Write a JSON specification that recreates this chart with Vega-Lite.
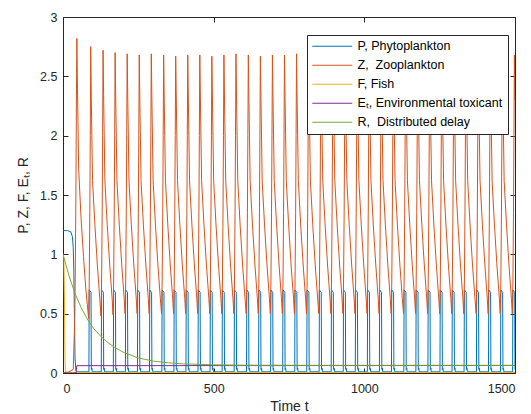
{
"$schema":"https://vega.github.io/schema/vega-lite/v6.json",
"width":452,"height":356,
"autosize":{"type":"none"},
"padding":{"left":63,"top":17,"right":16,"bottom":41},
"background":"white",
"config":{
 "view":{"stroke":"#262626","strokeWidth":1},
 "font":"Liberation Sans",
 "axis":{"labelFont":"Liberation Sans","titleFont":"Liberation Sans","labelColor":"#262626","titleColor":"#262626","titleFontWeight":"normal","grid":false,"domain":false,"tickColor":"#262626","tickSize":-5,"labelFontSize":12.5,"titleFontSize":14}
},
"data":{"values":[
{"t":0,"s":"P","v":1.2},{"t":15,"s":"P","v":1.2},{"t":26,"s":"P","v":1.19},{"t":31,"s":"P","v":1.15},{"t":34,"s":"P","v":1.06},{"t":36,"s":"P","v":0.85},{"t":38,"s":"P","v":0.45},{"t":40,"s":"P","v":0.12},{"t":43,"s":"P","v":0.02},{"t":46,"s":"P","v":0.01},
{"t":86,"s":"P","v":0.01},{"t":87,"s":"P","v":0.7},{"t":93,"s":"P","v":0.68},{"t":94,"s":"P","v":0.03},{"t":96,"s":"P","v":0.04},{"t":97,"s":"P","v":0.01},
{"t":127,"s":"P","v":0.01},{"t":128,"s":"P","v":0.7},{"t":134,"s":"P","v":0.68},{"t":135,"s":"P","v":0.03},{"t":137,"s":"P","v":0.04},{"t":138,"s":"P","v":0.01},
{"t":167,"s":"P","v":0.01},{"t":168,"s":"P","v":0.7},{"t":174,"s":"P","v":0.68},{"t":175,"s":"P","v":0.03},{"t":177,"s":"P","v":0.04},{"t":178,"s":"P","v":0.01},
{"t":207,"s":"P","v":0.01},{"t":208,"s":"P","v":0.7},{"t":214,"s":"P","v":0.68},{"t":215,"s":"P","v":0.03},{"t":217,"s":"P","v":0.04},{"t":218,"s":"P","v":0.01},
{"t":247,"s":"P","v":0.01},{"t":248,"s":"P","v":0.7},{"t":254,"s":"P","v":0.68},{"t":255,"s":"P","v":0.03},{"t":257,"s":"P","v":0.04},{"t":258,"s":"P","v":0.01},
{"t":287,"s":"P","v":0.01},{"t":288,"s":"P","v":0.7},{"t":294,"s":"P","v":0.68},{"t":295,"s":"P","v":0.03},{"t":297,"s":"P","v":0.04},{"t":298,"s":"P","v":0.01},
{"t":328,"s":"P","v":0.01},{"t":329,"s":"P","v":0.7},{"t":335,"s":"P","v":0.68},{"t":336,"s":"P","v":0.03},{"t":338,"s":"P","v":0.04},{"t":339,"s":"P","v":0.01},
{"t":368,"s":"P","v":0.01},{"t":369,"s":"P","v":0.7},{"t":375,"s":"P","v":0.68},{"t":376,"s":"P","v":0.03},{"t":378,"s":"P","v":0.04},{"t":379,"s":"P","v":0.01},
{"t":408,"s":"P","v":0.01},{"t":409,"s":"P","v":0.7},{"t":415,"s":"P","v":0.68},{"t":416,"s":"P","v":0.03},{"t":418,"s":"P","v":0.04},{"t":419,"s":"P","v":0.01},
{"t":448,"s":"P","v":0.01},{"t":449,"s":"P","v":0.7},{"t":455,"s":"P","v":0.68},{"t":456,"s":"P","v":0.03},{"t":458,"s":"P","v":0.04},{"t":459,"s":"P","v":0.01},
{"t":488,"s":"P","v":0.01},{"t":489,"s":"P","v":0.7},{"t":495,"s":"P","v":0.68},{"t":496,"s":"P","v":0.03},{"t":498,"s":"P","v":0.04},{"t":499,"s":"P","v":0.01},
{"t":528,"s":"P","v":0.01},{"t":529,"s":"P","v":0.7},{"t":535,"s":"P","v":0.68},{"t":536,"s":"P","v":0.03},{"t":538,"s":"P","v":0.04},{"t":539,"s":"P","v":0.01},
{"t":568,"s":"P","v":0.01},{"t":569,"s":"P","v":0.7},{"t":575,"s":"P","v":0.68},{"t":576,"s":"P","v":0.03},{"t":578,"s":"P","v":0.04},{"t":579,"s":"P","v":0.01},
{"t":609,"s":"P","v":0.01},{"t":610,"s":"P","v":0.7},{"t":616,"s":"P","v":0.68},{"t":617,"s":"P","v":0.03},{"t":619,"s":"P","v":0.04},{"t":620,"s":"P","v":0.01},
{"t":649,"s":"P","v":0.01},{"t":650,"s":"P","v":0.7},{"t":656,"s":"P","v":0.68},{"t":657,"s":"P","v":0.03},{"t":659,"s":"P","v":0.04},{"t":660,"s":"P","v":0.01},
{"t":689,"s":"P","v":0.01},{"t":690,"s":"P","v":0.7},{"t":696,"s":"P","v":0.68},{"t":697,"s":"P","v":0.03},{"t":699,"s":"P","v":0.04},{"t":700,"s":"P","v":0.01},
{"t":729,"s":"P","v":0.01},{"t":730,"s":"P","v":0.7},{"t":736,"s":"P","v":0.68},{"t":737,"s":"P","v":0.03},{"t":739,"s":"P","v":0.04},{"t":740,"s":"P","v":0.01},
{"t":769,"s":"P","v":0.01},{"t":770,"s":"P","v":0.7},{"t":776,"s":"P","v":0.68},{"t":777,"s":"P","v":0.03},{"t":779,"s":"P","v":0.04},{"t":780,"s":"P","v":0.01},
{"t":809,"s":"P","v":0.01},{"t":810,"s":"P","v":0.7},{"t":816,"s":"P","v":0.68},{"t":817,"s":"P","v":0.03},{"t":819,"s":"P","v":0.04},{"t":820,"s":"P","v":0.01},
{"t":850,"s":"P","v":0.01},{"t":851,"s":"P","v":0.7},{"t":857,"s":"P","v":0.68},{"t":858,"s":"P","v":0.03},{"t":860,"s":"P","v":0.04},{"t":861,"s":"P","v":0.01},
{"t":890,"s":"P","v":0.01},{"t":891,"s":"P","v":0.7},{"t":897,"s":"P","v":0.68},{"t":898,"s":"P","v":0.03},{"t":900,"s":"P","v":0.04},{"t":901,"s":"P","v":0.01},
{"t":930,"s":"P","v":0.01},{"t":931,"s":"P","v":0.7},{"t":937,"s":"P","v":0.68},{"t":938,"s":"P","v":0.03},{"t":940,"s":"P","v":0.04},{"t":941,"s":"P","v":0.01},
{"t":970,"s":"P","v":0.01},{"t":971,"s":"P","v":0.7},{"t":977,"s":"P","v":0.68},{"t":978,"s":"P","v":0.03},{"t":980,"s":"P","v":0.04},{"t":981,"s":"P","v":0.01},
{"t":1010,"s":"P","v":0.01},{"t":1011,"s":"P","v":0.7},{"t":1017,"s":"P","v":0.68},{"t":1018,"s":"P","v":0.03},{"t":1020,"s":"P","v":0.04},{"t":1021,"s":"P","v":0.01},
{"t":1050,"s":"P","v":0.01},{"t":1051,"s":"P","v":0.7},{"t":1057,"s":"P","v":0.68},{"t":1058,"s":"P","v":0.03},{"t":1060,"s":"P","v":0.04},{"t":1061,"s":"P","v":0.01},
{"t":1090,"s":"P","v":0.01},{"t":1091,"s":"P","v":0.7},{"t":1097,"s":"P","v":0.68},{"t":1098,"s":"P","v":0.03},{"t":1100,"s":"P","v":0.04},{"t":1101,"s":"P","v":0.01},
{"t":1131,"s":"P","v":0.01},{"t":1132,"s":"P","v":0.7},{"t":1138,"s":"P","v":0.68},{"t":1139,"s":"P","v":0.03},{"t":1141,"s":"P","v":0.04},{"t":1142,"s":"P","v":0.01},
{"t":1171,"s":"P","v":0.01},{"t":1172,"s":"P","v":0.7},{"t":1178,"s":"P","v":0.68},{"t":1179,"s":"P","v":0.03},{"t":1181,"s":"P","v":0.04},{"t":1182,"s":"P","v":0.01},
{"t":1211,"s":"P","v":0.01},{"t":1212,"s":"P","v":0.7},{"t":1218,"s":"P","v":0.68},{"t":1219,"s":"P","v":0.03},{"t":1221,"s":"P","v":0.04},{"t":1222,"s":"P","v":0.01},
{"t":1251,"s":"P","v":0.01},{"t":1252,"s":"P","v":0.7},{"t":1258,"s":"P","v":0.68},{"t":1259,"s":"P","v":0.03},{"t":1261,"s":"P","v":0.04},{"t":1262,"s":"P","v":0.01},
{"t":1291,"s":"P","v":0.01},{"t":1292,"s":"P","v":0.7},{"t":1298,"s":"P","v":0.68},{"t":1299,"s":"P","v":0.03},{"t":1301,"s":"P","v":0.04},{"t":1302,"s":"P","v":0.01},
{"t":1331,"s":"P","v":0.01},{"t":1332,"s":"P","v":0.7},{"t":1338,"s":"P","v":0.68},{"t":1339,"s":"P","v":0.03},{"t":1341,"s":"P","v":0.04},{"t":1342,"s":"P","v":0.01},
{"t":1372,"s":"P","v":0.01},{"t":1373,"s":"P","v":0.7},{"t":1379,"s":"P","v":0.68},{"t":1380,"s":"P","v":0.03},{"t":1382,"s":"P","v":0.04},{"t":1383,"s":"P","v":0.01},
{"t":1412,"s":"P","v":0.01},{"t":1413,"s":"P","v":0.7},{"t":1419,"s":"P","v":0.68},{"t":1420,"s":"P","v":0.03},{"t":1422,"s":"P","v":0.04},{"t":1423,"s":"P","v":0.01},
{"t":1452,"s":"P","v":0.01},{"t":1453,"s":"P","v":0.7},{"t":1459,"s":"P","v":0.68},{"t":1460,"s":"P","v":0.03},{"t":1462,"s":"P","v":0.04},{"t":1463,"s":"P","v":0.01},
{"t":1492,"s":"P","v":0.01},{"t":1493,"s":"P","v":0.7},{"t":1499,"s":"P","v":0.68},{"t":1500,"s":"P","v":0.03},
{"t":0,"s":"Z","v":0},{"t":20,"s":"Z","v":0.01},{"t":34,"s":"Z","v":0.03},{"t":39,"s":"Z","v":0.45},{"t":41,"s":"Z","v":0.9},{"t":43,"s":"Z","v":1.6},{"t":44.5,"s":"Z","v":2.3},{"t":46,"s":"Z","v":2.82},
{"t":48,"s":"Z","v":2.4},{"t":52,"s":"Z","v":1.72},{"t":60,"s":"Z","v":1.3},{"t":68,"s":"Z","v":0.98},{"t":76,"s":"Z","v":0.7},{"t":85,"s":"Z","v":0.46},{"t":87,"s":"Z","v":0.75},{"t":89,"s":"Z","v":1.35},{"t":90.5,"s":"Z","v":2.0},{"t":92,"s":"Z","v":2.75},
{"t":94,"s":"Z","v":2.3},{"t":98,"s":"Z","v":1.62},{"t":106,"s":"Z","v":1.24},{"t":114,"s":"Z","v":0.91},{"t":122,"s":"Z","v":0.63},{"t":126,"s":"Z","v":0.48},{"t":128,"s":"Z","v":0.75},{"t":130,"s":"Z","v":1.35},{"t":131.5,"s":"Z","v":2.0},{"t":133,"s":"Z","v":2.72},
{"t":135,"s":"Z","v":2.3},{"t":139,"s":"Z","v":1.62},{"t":147,"s":"Z","v":1.24},{"t":155,"s":"Z","v":0.91},{"t":163,"s":"Z","v":0.63},{"t":166,"s":"Z","v":0.49},{"t":168,"s":"Z","v":0.75},{"t":170,"s":"Z","v":1.35},{"t":171.5,"s":"Z","v":2.0},{"t":173,"s":"Z","v":2.7},
{"t":175,"s":"Z","v":2.3},{"t":179,"s":"Z","v":1.62},{"t":187,"s":"Z","v":1.24},{"t":195,"s":"Z","v":0.91},{"t":203,"s":"Z","v":0.63},{"t":206,"s":"Z","v":0.5},{"t":208,"s":"Z","v":0.75},{"t":210,"s":"Z","v":1.35},{"t":211.5,"s":"Z","v":2.0},{"t":213,"s":"Z","v":2.69},
{"t":215,"s":"Z","v":2.3},{"t":219,"s":"Z","v":1.62},{"t":227,"s":"Z","v":1.24},{"t":235,"s":"Z","v":0.91},{"t":243,"s":"Z","v":0.63},{"t":246,"s":"Z","v":0.5},{"t":248,"s":"Z","v":0.75},{"t":250,"s":"Z","v":1.35},{"t":251.5,"s":"Z","v":2.0},{"t":253,"s":"Z","v":2.68},
{"t":255,"s":"Z","v":2.3},{"t":259,"s":"Z","v":1.62},{"t":267,"s":"Z","v":1.24},{"t":275,"s":"Z","v":0.91},{"t":283,"s":"Z","v":0.63},{"t":286,"s":"Z","v":0.5},{"t":288,"s":"Z","v":0.75},{"t":290,"s":"Z","v":1.35},{"t":291.5,"s":"Z","v":2.0},{"t":293,"s":"Z","v":2.69},
{"t":295,"s":"Z","v":2.3},{"t":299,"s":"Z","v":1.62},{"t":307,"s":"Z","v":1.24},{"t":315,"s":"Z","v":0.91},{"t":323,"s":"Z","v":0.63},{"t":327,"s":"Z","v":0.5},{"t":329,"s":"Z","v":0.75},{"t":331,"s":"Z","v":1.35},{"t":332.5,"s":"Z","v":2.0},{"t":334,"s":"Z","v":2.68},
{"t":336,"s":"Z","v":2.3},{"t":340,"s":"Z","v":1.62},{"t":348,"s":"Z","v":1.24},{"t":356,"s":"Z","v":0.91},{"t":364,"s":"Z","v":0.63},{"t":367,"s":"Z","v":0.5},{"t":369,"s":"Z","v":0.75},{"t":371,"s":"Z","v":1.35},{"t":372.5,"s":"Z","v":2.0},{"t":374,"s":"Z","v":2.67},
{"t":376,"s":"Z","v":2.3},{"t":380,"s":"Z","v":1.62},{"t":388,"s":"Z","v":1.24},{"t":396,"s":"Z","v":0.91},{"t":404,"s":"Z","v":0.63},{"t":407,"s":"Z","v":0.5},{"t":409,"s":"Z","v":0.75},{"t":411,"s":"Z","v":1.35},{"t":412.5,"s":"Z","v":2.0},{"t":414,"s":"Z","v":2.68},
{"t":416,"s":"Z","v":2.3},{"t":420,"s":"Z","v":1.62},{"t":428,"s":"Z","v":1.24},{"t":436,"s":"Z","v":0.91},{"t":444,"s":"Z","v":0.63},{"t":447,"s":"Z","v":0.5},{"t":449,"s":"Z","v":0.75},{"t":451,"s":"Z","v":1.35},{"t":452.5,"s":"Z","v":2.0},{"t":454,"s":"Z","v":2.68},
{"t":456,"s":"Z","v":2.3},{"t":460,"s":"Z","v":1.62},{"t":468,"s":"Z","v":1.24},{"t":476,"s":"Z","v":0.91},{"t":484,"s":"Z","v":0.63},{"t":487,"s":"Z","v":0.5},{"t":489,"s":"Z","v":0.75},{"t":491,"s":"Z","v":1.35},{"t":492.5,"s":"Z","v":2.0},{"t":494,"s":"Z","v":2.67},
{"t":496,"s":"Z","v":2.3},{"t":500,"s":"Z","v":1.62},{"t":508,"s":"Z","v":1.24},{"t":516,"s":"Z","v":0.91},{"t":524,"s":"Z","v":0.63},{"t":527,"s":"Z","v":0.5},{"t":529,"s":"Z","v":0.75},{"t":531,"s":"Z","v":1.35},{"t":532.5,"s":"Z","v":2.0},{"t":534,"s":"Z","v":2.68},
{"t":536,"s":"Z","v":2.3},{"t":540,"s":"Z","v":1.62},{"t":548,"s":"Z","v":1.24},{"t":556,"s":"Z","v":0.91},{"t":564,"s":"Z","v":0.63},{"t":567,"s":"Z","v":0.5},{"t":569,"s":"Z","v":0.75},{"t":571,"s":"Z","v":1.35},{"t":572.5,"s":"Z","v":2.0},{"t":574,"s":"Z","v":2.69},
{"t":576,"s":"Z","v":2.3},{"t":580,"s":"Z","v":1.62},{"t":588,"s":"Z","v":1.24},{"t":596,"s":"Z","v":0.91},{"t":604,"s":"Z","v":0.63},{"t":608,"s":"Z","v":0.5},{"t":610,"s":"Z","v":0.75},{"t":612,"s":"Z","v":1.35},{"t":613.5,"s":"Z","v":2.0},{"t":615,"s":"Z","v":2.68},
{"t":617,"s":"Z","v":2.3},{"t":621,"s":"Z","v":1.62},{"t":629,"s":"Z","v":1.24},{"t":637,"s":"Z","v":0.91},{"t":645,"s":"Z","v":0.63},{"t":648,"s":"Z","v":0.5},{"t":650,"s":"Z","v":0.75},{"t":652,"s":"Z","v":1.35},{"t":653.5,"s":"Z","v":2.0},{"t":655,"s":"Z","v":2.67},
{"t":657,"s":"Z","v":2.3},{"t":661,"s":"Z","v":1.62},{"t":669,"s":"Z","v":1.24},{"t":677,"s":"Z","v":0.91},{"t":685,"s":"Z","v":0.63},{"t":688,"s":"Z","v":0.5},{"t":690,"s":"Z","v":0.75},{"t":692,"s":"Z","v":1.35},{"t":693.5,"s":"Z","v":2.0},{"t":695,"s":"Z","v":2.68},
{"t":697,"s":"Z","v":2.3},{"t":701,"s":"Z","v":1.62},{"t":709,"s":"Z","v":1.24},{"t":717,"s":"Z","v":0.91},{"t":725,"s":"Z","v":0.63},{"t":728,"s":"Z","v":0.5},{"t":730,"s":"Z","v":0.75},{"t":732,"s":"Z","v":1.35},{"t":733.5,"s":"Z","v":2.0},{"t":735,"s":"Z","v":2.68},
{"t":737,"s":"Z","v":2.3},{"t":741,"s":"Z","v":1.62},{"t":749,"s":"Z","v":1.24},{"t":757,"s":"Z","v":0.91},{"t":765,"s":"Z","v":0.63},{"t":768,"s":"Z","v":0.5},{"t":770,"s":"Z","v":0.75},{"t":772,"s":"Z","v":1.35},{"t":773.5,"s":"Z","v":2.0},{"t":775,"s":"Z","v":2.69},
{"t":777,"s":"Z","v":2.3},{"t":781,"s":"Z","v":1.62},{"t":789,"s":"Z","v":1.24},{"t":797,"s":"Z","v":0.91},{"t":805,"s":"Z","v":0.63},{"t":808,"s":"Z","v":0.5},{"t":810,"s":"Z","v":0.75},{"t":812,"s":"Z","v":1.35},{"t":813.5,"s":"Z","v":2.0},{"t":815,"s":"Z","v":2.68},
{"t":817,"s":"Z","v":2.3},{"t":821,"s":"Z","v":1.62},{"t":829,"s":"Z","v":1.24},{"t":837,"s":"Z","v":0.91},{"t":845,"s":"Z","v":0.63},{"t":849,"s":"Z","v":0.5},{"t":851,"s":"Z","v":0.75},{"t":853,"s":"Z","v":1.35},{"t":854.5,"s":"Z","v":2.0},{"t":856,"s":"Z","v":2.67},
{"t":858,"s":"Z","v":2.3},{"t":862,"s":"Z","v":1.62},{"t":870,"s":"Z","v":1.24},{"t":878,"s":"Z","v":0.91},{"t":886,"s":"Z","v":0.63},{"t":889,"s":"Z","v":0.5},{"t":891,"s":"Z","v":0.75},{"t":893,"s":"Z","v":1.35},{"t":894.5,"s":"Z","v":2.0},{"t":896,"s":"Z","v":2.68},
{"t":898,"s":"Z","v":2.3},{"t":902,"s":"Z","v":1.62},{"t":910,"s":"Z","v":1.24},{"t":918,"s":"Z","v":0.91},{"t":926,"s":"Z","v":0.63},{"t":929,"s":"Z","v":0.5},{"t":931,"s":"Z","v":0.75},{"t":933,"s":"Z","v":1.35},{"t":934.5,"s":"Z","v":2.0},{"t":936,"s":"Z","v":2.68},
{"t":938,"s":"Z","v":2.3},{"t":942,"s":"Z","v":1.62},{"t":950,"s":"Z","v":1.24},{"t":958,"s":"Z","v":0.91},{"t":966,"s":"Z","v":0.63},{"t":969,"s":"Z","v":0.5},{"t":971,"s":"Z","v":0.75},{"t":973,"s":"Z","v":1.35},{"t":974.5,"s":"Z","v":2.0},{"t":976,"s":"Z","v":2.69},
{"t":978,"s":"Z","v":2.3},{"t":982,"s":"Z","v":1.62},{"t":990,"s":"Z","v":1.24},{"t":998,"s":"Z","v":0.91},{"t":1006,"s":"Z","v":0.63},{"t":1009,"s":"Z","v":0.5},{"t":1011,"s":"Z","v":0.75},{"t":1013,"s":"Z","v":1.35},{"t":1014.5,"s":"Z","v":2.0},{"t":1016,"s":"Z","v":2.68},
{"t":1018,"s":"Z","v":2.3},{"t":1022,"s":"Z","v":1.62},{"t":1030,"s":"Z","v":1.24},{"t":1038,"s":"Z","v":0.91},{"t":1046,"s":"Z","v":0.63},{"t":1049,"s":"Z","v":0.5},{"t":1051,"s":"Z","v":0.75},{"t":1053,"s":"Z","v":1.35},{"t":1054.5,"s":"Z","v":2.0},{"t":1056,"s":"Z","v":2.67},
{"t":1058,"s":"Z","v":2.3},{"t":1062,"s":"Z","v":1.62},{"t":1070,"s":"Z","v":1.24},{"t":1078,"s":"Z","v":0.91},{"t":1086,"s":"Z","v":0.63},{"t":1089,"s":"Z","v":0.5},{"t":1091,"s":"Z","v":0.75},{"t":1093,"s":"Z","v":1.35},{"t":1094.5,"s":"Z","v":2.0},{"t":1096,"s":"Z","v":2.68},
{"t":1098,"s":"Z","v":2.3},{"t":1102,"s":"Z","v":1.62},{"t":1110,"s":"Z","v":1.24},{"t":1118,"s":"Z","v":0.91},{"t":1126,"s":"Z","v":0.63},{"t":1130,"s":"Z","v":0.5},{"t":1132,"s":"Z","v":0.75},{"t":1134,"s":"Z","v":1.35},{"t":1135.5,"s":"Z","v":2.0},{"t":1137,"s":"Z","v":2.68},
{"t":1139,"s":"Z","v":2.3},{"t":1143,"s":"Z","v":1.62},{"t":1151,"s":"Z","v":1.24},{"t":1159,"s":"Z","v":0.91},{"t":1167,"s":"Z","v":0.63},{"t":1170,"s":"Z","v":0.5},{"t":1172,"s":"Z","v":0.75},{"t":1174,"s":"Z","v":1.35},{"t":1175.5,"s":"Z","v":2.0},{"t":1177,"s":"Z","v":2.69},
{"t":1179,"s":"Z","v":2.3},{"t":1183,"s":"Z","v":1.62},{"t":1191,"s":"Z","v":1.24},{"t":1199,"s":"Z","v":0.91},{"t":1207,"s":"Z","v":0.63},{"t":1210,"s":"Z","v":0.5},{"t":1212,"s":"Z","v":0.75},{"t":1214,"s":"Z","v":1.35},{"t":1215.5,"s":"Z","v":2.0},{"t":1217,"s":"Z","v":2.68},
{"t":1219,"s":"Z","v":2.3},{"t":1223,"s":"Z","v":1.62},{"t":1231,"s":"Z","v":1.24},{"t":1239,"s":"Z","v":0.91},{"t":1247,"s":"Z","v":0.63},{"t":1250,"s":"Z","v":0.5},{"t":1252,"s":"Z","v":0.75},{"t":1254,"s":"Z","v":1.35},{"t":1255.5,"s":"Z","v":2.0},{"t":1257,"s":"Z","v":2.67},
{"t":1259,"s":"Z","v":2.3},{"t":1263,"s":"Z","v":1.62},{"t":1271,"s":"Z","v":1.24},{"t":1279,"s":"Z","v":0.91},{"t":1287,"s":"Z","v":0.63},{"t":1290,"s":"Z","v":0.5},{"t":1292,"s":"Z","v":0.75},{"t":1294,"s":"Z","v":1.35},{"t":1295.5,"s":"Z","v":2.0},{"t":1297,"s":"Z","v":2.68},
{"t":1299,"s":"Z","v":2.3},{"t":1303,"s":"Z","v":1.62},{"t":1311,"s":"Z","v":1.24},{"t":1319,"s":"Z","v":0.91},{"t":1327,"s":"Z","v":0.63},{"t":1330,"s":"Z","v":0.5},{"t":1332,"s":"Z","v":0.75},{"t":1334,"s":"Z","v":1.35},{"t":1335.5,"s":"Z","v":2.0},{"t":1337,"s":"Z","v":2.68},
{"t":1339,"s":"Z","v":2.3},{"t":1343,"s":"Z","v":1.62},{"t":1351,"s":"Z","v":1.24},{"t":1359,"s":"Z","v":0.91},{"t":1367,"s":"Z","v":0.63},{"t":1371,"s":"Z","v":0.5},{"t":1373,"s":"Z","v":0.75},{"t":1375,"s":"Z","v":1.35},{"t":1376.5,"s":"Z","v":2.0},{"t":1378,"s":"Z","v":2.69},
{"t":1380,"s":"Z","v":2.3},{"t":1384,"s":"Z","v":1.62},{"t":1392,"s":"Z","v":1.24},{"t":1400,"s":"Z","v":0.91},{"t":1408,"s":"Z","v":0.63},{"t":1411,"s":"Z","v":0.5},{"t":1413,"s":"Z","v":0.75},{"t":1415,"s":"Z","v":1.35},{"t":1416.5,"s":"Z","v":2.0},{"t":1418,"s":"Z","v":2.68},
{"t":1420,"s":"Z","v":2.3},{"t":1424,"s":"Z","v":1.62},{"t":1432,"s":"Z","v":1.24},{"t":1440,"s":"Z","v":0.91},{"t":1448,"s":"Z","v":0.63},{"t":1451,"s":"Z","v":0.5},{"t":1453,"s":"Z","v":0.75},{"t":1455,"s":"Z","v":1.35},{"t":1456.5,"s":"Z","v":2.0},{"t":1458,"s":"Z","v":2.67},
{"t":1460,"s":"Z","v":2.3},{"t":1464,"s":"Z","v":1.62},{"t":1472,"s":"Z","v":1.24},{"t":1480,"s":"Z","v":0.91},{"t":1488,"s":"Z","v":0.63},{"t":1491,"s":"Z","v":0.5},{"t":1493,"s":"Z","v":0.75},{"t":1495,"s":"Z","v":1.35},{"t":1496.5,"s":"Z","v":2.0},{"t":1498,"s":"Z","v":2.68},
{"t":1500,"s":"Z","v":2.3},
{"t":0,"s":"F","v":1.0},{"t":3,"s":"F","v":0.97},{"t":5,"s":"F","v":0.6},{"t":6.5,"s":"F","v":0.12},{"t":8,"s":"F","v":0.01},{"t":20,"s":"F","v":0.004},{"t":1500,"s":"F","v":0.004},
{"t":0,"s":"E","v":0},{"t":43,"s":"E","v":0},{"t":46,"s":"E","v":0.062},{"t":1500,"s":"E","v":0.063},
{"t":0,"s":"R","v":1.0},{"t":20,"s":"R","v":0.818},{"t":40,"s":"R","v":0.67},{"t":60,"s":"R","v":0.552},{"t":80,"s":"R","v":0.457},{"t":100,"s":"R","v":0.38},{"t":125,"s":"R","v":0.31},{"t":150,"s":"R","v":0.255},{"t":175,"s":"R","v":0.21},{"t":200,"s":"R","v":0.175},{"t":250,"s":"R","v":0.127},{"t":300,"s":"R","v":0.1},{"t":350,"s":"R","v":0.086},{"t":400,"s":"R","v":0.077},{"t":500,"s":"R","v":0.069},{"t":600,"s":"R","v":0.066},{"t":800,"s":"R","v":0.065},{"t":1500,"s":"R","v":0.065}
]},
"layer":[
 {"mark":{"type":"line","strokeWidth":1,"clip":true},
  "encoding":{
   "x":{"field":"t","type":"quantitative","scale":{"domain":[0,1500],"nice":false},
        "axis":{"orient":"bottom","values":[0,500,1000,1500],"format":"d","title":"Time t","labelPadding":14,"titlePadding":5}},
   "y":{"field":"v","type":"quantitative","scale":{"domain":[0,3],"nice":false},
        "axis":{"orient":"left","values":[0,0.5,1,1.5,2,2.5,3],"format":"~g","title":"P, Z, F, Eₜ, R","labelPadding":11,"titlePadding":9}},
   "color":{"field":"s","type":"nominal","sort":["P","Z","F","E","R"],
        "scale":{"domain":["P","Z","F","E","R"],"range":["#0072BD","#D95319","#EDB120","#7E2F8E","#77AC30"]},
        "legend":{"orient":"none","legendX":244,"legendY":18,"title":null,"direction":"vertical",
          "symbolType":"M-4,0H4","symbolSize":100,"symbolStrokeWidth":1,"symbolOffset":14,"labelOffset":19,
          "labelFont":"Liberation Sans","labelFontSize":12.5,"labelColor":"#000000","rowPadding":6,"padding":5,
          "fillColor":"#ffffff","strokeColor":"#262626",
          "encode":{"symbols":{"update":{"stroke":{"scale":"color","field":"value"},"strokeWidth":{"value":1},"fill":{"value":"transparent"},"opacity":{"value":1}}}},
          "labelExpr":"datum.label == 'P' ? 'P, Phytoplankton' : datum.label == 'Z' ? 'Z,\u00a0 Zooplankton' : datum.label == 'F' ? 'F, Fish' : datum.label == 'E' ? 'Eₜ, Environmental toxicant' : 'R,\u00a0 Distributed delay'"}}
  }},
 {"transform":[{"filter":"datum.t == 0 && datum.s == 'P'"}],
  "mark":{"type":"point","opacity":0},
  "encoding":{
   "x":{"field":"t","type":"quantitative","axis":{"orient":"top","values":[0,500,1000,1500],"labels":false,"title":null}},
   "y":{"field":"v","type":"quantitative","axis":{"orient":"right","values":[0,0.5,1,1.5,2,2.5,3],"labels":false,"title":null}}
  }}
],
"resolve":{"axis":{"x":"independent","y":"independent"}}
}
